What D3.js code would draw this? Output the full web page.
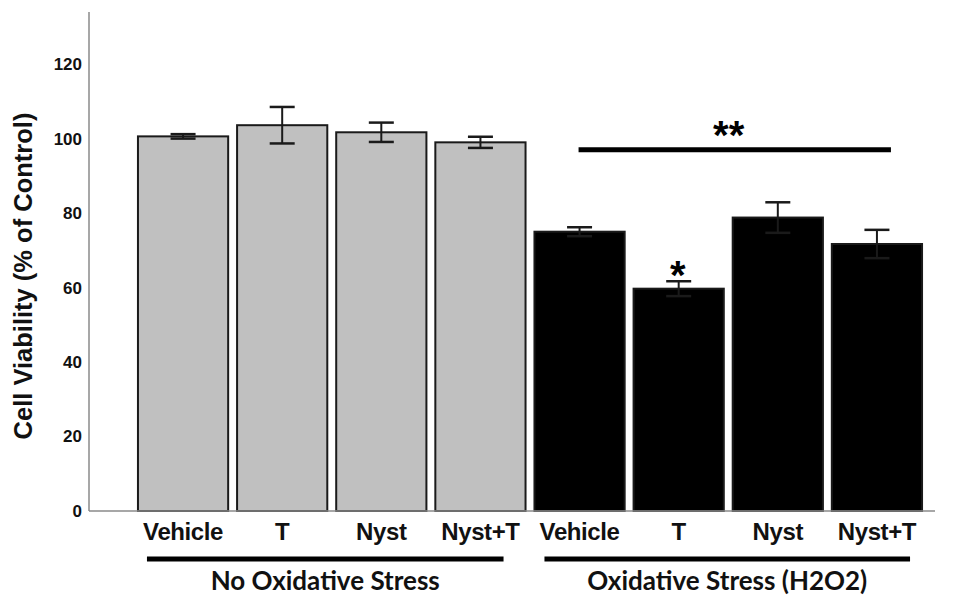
<!DOCTYPE html>
<html>
<head>
<meta charset="utf-8">
<script src="https://cdn.jsdelivr.net/npm/d3@7"></script>
<style>
body { margin: 0; background: #fff; }
svg { display: block; }
</style>
</head>
<body>
<svg id="chart" width="960" height="598"></svg>
<script>
// data
var groups = ["No Oxidative Stress", "Oxidative Stress (H2O2)"];
var conditions = ["Vehicle", "T", "Nyst", "Nyst+T"];
var noStress = [100.6, 103.6, 101.7, 99.0];
var noStressErr = [0.6, 4.9, 2.6, 1.5];
var stress = [75.0, 59.7, 78.8, 71.7];
var stressErr = [1.2, 2.0, 4.1, 3.8];
var yTicks = [0, 20, 40, 60, 80, 100, 120];
var sigLevel = 97;

var rows = [];
conditions.forEach(function(c, i) {
	rows.push({key: "a" + i, group: 0, name: c, v: noStress[i], e: noStressErr[i]});
});
conditions.forEach(function(c, i) {
	rows.push({key: "b" + i, group: 1, name: c, v: stress[i], e: stressErr[i]});
});

var svg = d3.select("#chart");
var arial = "Liberation Sans, Arial, sans-serif";

var x = d3.scaleBand()
	.domain(rows.map(function(d) { return d.key; }))
	.range([133.5, 926.5])
	.paddingInner(0.09)
	.paddingOuter(0.045);

var y = d3.scaleLinear().domain([0, 134]).range([511, 12]);

/* axis lines */
svg.append("line")
	.attr("x1", 89).attr("x2", 89)
	.attr("y1", y(134)).attr("y2", y(0))
	.style("stroke", "#8a8a8a").style("stroke-width", 1.5);

// tick labels only, no tick marks
var yAxis = d3.axisLeft(y).tickValues(yTicks).tickSize(0).tickPadding(0);
var ga = svg.append("g").attr("transform", "translate(82,0)").call(yAxis);
ga.select(".domain").remove();
ga.selectAll("text")
	.style("font-family", arial)
	.style("font-weight", "bold")
	.style("font-size", "17px")
	.style("fill", "#111");

svg.append("text")
	.attr("transform", "translate(32,276) rotate(-90)")
	.attr("text-anchor", "middle")
	.style("font-family", arial)
	.style("font-weight", "bold")
	.style("font-size", "25.5px")
	.style("fill", "#111")
	.text("Cell Viability (% of Control)");

/* bars */
svg.selectAll("rect.bar")
	.data(rows)
	.enter().append("rect")
	.attr("class", "bar")
	.attr("x", function(d) { return x(d.key); })
	.attr("width", x.bandwidth())
	.attr("y", function(d) { return y(d.v); })
	.attr("height", function(d) { return y(0) - y(d.v); })
	.style("fill", function(d) { return d.group ? "#000" : "#c0c0c0"; })
	.style("stroke", "#1a1a1a")
	.style("stroke-width", 2);

svg.append("line")
	.attr("x1", 89).attr("x2", 935)
	.attr("y1", y(0)).attr("y2", y(0))
	.style("stroke", "#8a8a8a").style("stroke-width", 1.5);

/* error bars */
var eb = svg.selectAll("g.err")
	.data(rows)
	.enter().append("g")
	.attr("class", "err")
	.attr("transform", function(d) { return "translate(" + (x(d.key) + x.bandwidth() / 2) + ",0)"; });

eb.append("line")
	.attr("y1", function(d) { return y(d.v + d.e); })
	.attr("y2", function(d) { return y(d.v - d.e); })
	.style("stroke", "#1a1a1a").style("stroke-width", 2);

eb.selectAll("line.cap")
	.data(function(d) { return [d.v + d.e, d.v - d.e]; })
	.enter().append("line")
	.attr("class", "cap")
	.attr("x1", -12.5).attr("x2", 12.5)
	.attr("y1", function(v) { return y(v); })
	.attr("y2", function(v) { return y(v); })
	.style("stroke", "#1a1a1a").style("stroke-width", 2.5);

/* significance marks */
var bw = x.bandwidth();
svg.append("line")
	.attr("x1", x("b0") + bw / 2 - 1)
	.attr("x2", x("b3") + bw / 2 + 14)
	.attr("y1", y(sigLevel)).attr("y2", y(sigLevel))
	.style("stroke", "#000").style("stroke-width", 5);

svg.append("text")
	.attr("x", x("b1") + bw / 2 + 50)
	.attr("y", y(sigLevel) - 1)
	.attr("text-anchor", "middle")
	.style("font-family", arial)
	.style("font-weight", "bold")
	.style("font-size", "40px")
	.text("**");

svg.append("text")
	.attr("x", x("b1") + bw / 2 - 1)
	.attr("y", y(stress[1] + stressErr[1]) + 8)
	.attr("text-anchor", "middle")
	.style("font-family", arial)
	.style("font-weight", "bold")
	.style("font-size", "40px")
	.text("*");

/* category labels */
svg.selectAll("text.cat")
	.data(rows)
	.enter().append("text")
	.attr("class", "cat")
	.attr("x", function(d) { return x(d.key) + bw / 2; })
	.attr("y", 540)
	.attr("text-anchor", "middle")
	.style("font-family", arial)
	.style("font-weight", "bold")
	.style("font-size", "24px")
	.style("letter-spacing", "-0.4px")
	.style("fill", "#111")
	.text(function(d) { return d.name; });

/* group underlines and labels */
groups.forEach(function(g, i) {
	var first = x((i ? "b" : "a") + 0), last = x((i ? "b" : "a") + 3) + bw;
	var x1 = first + (i ? 10 : 9), x2 = last - (i ? 12 : 22);
	svg.append("line")
		.attr("x1", x1).attr("x2", x2)
		.attr("y1", 559).attr("y2", 559)
		.style("stroke", "#000").style("stroke-width", 5);
	svg.append("text")
		.attr("x", (x1 + x2) / 2)
		.attr("y", 590)
		.attr("text-anchor", "middle")
		.style("font-family", "Lato, Carlito, sans-serif")
		.style("font-weight", "bold")
		.style("font-size", "26px")
		.style("fill", "#111")
		.text(g);
});
</script>
</body>
</html>
